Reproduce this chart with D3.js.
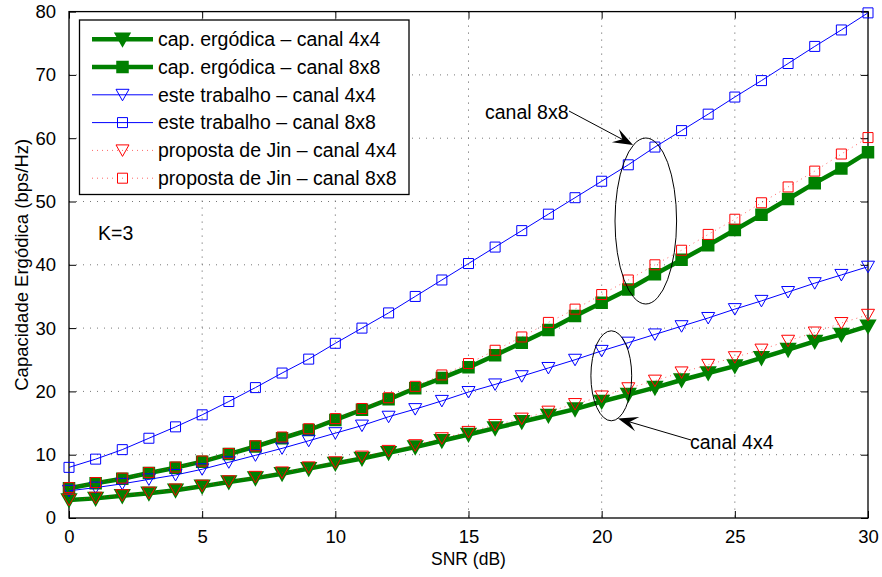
<!DOCTYPE html>
<html>
<head>
<meta charset="utf-8">
<script src="https://cdn.jsdelivr.net/npm/d3@7"></script>
<style>
  html, body { margin: 0; padding: 0; background: #fff; }
  svg { display: block; }
  text { font-family: "Liberation Sans", Arial, Helvetica, sans-serif; fill: #000; }
</style>
</head>
<body>
<svg id="chart" width="882" height="577"></svg>
<script>
// SNR sweep (dB)
const snr = d3.range(0, 31);
const xTicks = [0, 5, 10, 15, 20, 25, 30];
const yTicks = [0, 10, 20, 30, 40, 50, 60, 70, 80];

// Ergodic capacity (bps/Hz)
const ergodica4x4 = [2.85, 3.1, 3.5, 3.9, 4.4, 5.0, 5.7, 6.3, 7.0, 7.8, 8.6, 9.4, 10.3, 11.2, 12.2, 13.2, 14.2, 15.2, 16.2, 17.2, 18.4, 19.5, 20.6, 21.8, 22.9, 24.0, 25.3, 26.6, 27.9, 29.0, 30.3];
const ergodica8x8 = [4.7, 5.5, 6.2, 7.1, 7.95, 8.9, 10.1, 11.3, 12.6, 13.9, 15.5, 17.1, 18.75, 20.5, 22.1, 23.8, 25.7, 27.7, 29.7, 31.9, 34.0, 36.1, 38.5, 40.8, 43.1, 45.5, 47.9, 50.4, 52.9, 55.2, 57.8];
const trabalho4x4 = [4.3, 4.8, 5.4, 6.1, 6.8, 7.7, 8.8, 9.9, 11.0, 12.2, 13.4, 14.6, 16.0, 17.2, 18.5, 19.9, 21.1, 22.4, 23.7, 25.0, 26.4, 27.7, 29.0, 30.3, 31.6, 33.0, 34.3, 35.7, 37.1, 38.4, 39.7];
const trabalho8x8 = [8.0, 9.3, 10.8, 12.6, 14.4, 16.3, 18.4, 20.6, 22.9, 25.1, 27.6, 30.0, 32.4, 35.0, 37.6, 40.2, 42.8, 45.4, 48.0, 50.6, 53.2, 55.8, 58.6, 61.2, 63.8, 66.5, 69.1, 71.8, 74.5, 77.1, 79.8];
const jin4x4 = [2.9, 3.2, 3.6, 4.0, 4.5, 5.1, 5.8, 6.5, 7.2, 8.0, 8.8, 9.7, 10.6, 11.5, 12.6, 13.6, 14.7, 15.7, 16.8, 18.0, 19.2, 20.5, 21.7, 23.0, 24.2, 25.4, 26.6, 28.0, 29.3, 30.8, 32.1];
const jin8x8 = [4.8, 5.6, 6.3, 7.2, 8.05, 9.0, 10.2, 11.4, 12.8, 14.1, 15.7, 17.3, 19.0, 20.8, 22.6, 24.4, 26.5, 28.6, 30.9, 33.0, 35.3, 37.6, 40.0, 42.3, 44.8, 47.2, 49.8, 52.3, 54.8, 57.5, 60.1];

const seriesNames = [
  "cap. ergódica \u2013 canal 4x4",
  "cap. ergódica \u2013 canal 8x8",
  "este trabalho \u2013 canal 4x4",
  "este trabalho \u2013 canal 8x8",
  "proposta de Jin \u2013 canal 4x4",
  "proposta de Jin \u2013 canal 8x8"
];

const GREEN = "#008000", BLUE = "#0000ff", RED = "#ff0000";
const styles = [
  { values: ergodica4x4, color: GREEN, width: 4.5, dash: null, marker: "tri", fill: GREEN, mstroke: 2.5 },
  { values: ergodica8x8, color: GREEN, width: 4.5, dash: null, marker: "sq", fill: GREEN, mstroke: 2.5 },
  { values: trabalho4x4, color: BLUE, width: 1, dash: null, marker: "tri", fill: "none", mstroke: 1 },
  { values: trabalho8x8, color: BLUE, width: 1, dash: null, marker: "sq", fill: "none", mstroke: 1 },
  { values: jin4x4, color: RED, width: 1, dash: "1,4", marker: "tri", fill: "none", mstroke: 1 },
  { values: jin8x8, color: RED, width: 1, dash: "1,4", marker: "sq", fill: "none", mstroke: 1 }
];

const svg = d3.select("#chart");
svg.append("rect").attr("width", 882).attr("height", 577).attr("fill", "#fff");

const plot = { left: 69, right: 868, top: 11.6, bottom: 518 };
const x = d3.scaleLinear().domain([0, 30]).range([plot.left, plot.right]);
const y = d3.scaleLinear().domain([0, 80]).range([plot.bottom, plot.top]);

// grid
const grid = svg.append("g");
grid.selectAll("line.gx").data(xTicks.slice(1, -1)).join("line")
  .attr("x1", d => x(d)).attr("x2", d => x(d))
  .attr("y1", plot.top).attr("y2", plot.bottom)
  .attr("stroke", "#555").attr("stroke-width", 1).attr("stroke-dasharray", "1,6");
grid.selectAll("line.gy").data(yTicks.slice(1, -1)).join("line")
  .attr("y1", d => y(d)).attr("y2", d => y(d))
  .attr("x1", plot.left).attr("x2", plot.right)
  .attr("stroke", "#777").attr("stroke-width", 1).attr("stroke-dasharray", "1,6");

// axes with inward ticks on all four sides
const tickLen = 7;
const fs = 18.5;
const axB = svg.append("g").attr("transform", `translate(0,${plot.bottom})`)
  .call(d3.axisBottom(x).tickValues(xTicks).tickSize(-tickLen).tickPadding(12).tickFormat(d3.format("d")));
const axT = svg.append("g").attr("transform", `translate(0,${plot.top})`)
  .call(d3.axisTop(x).tickValues(xTicks).tickSize(-tickLen).tickFormat(""));
const axL = svg.append("g").attr("transform", `translate(${plot.left},0)`)
  .call(d3.axisLeft(y).tickValues(yTicks).tickSize(-tickLen).tickPadding(13).tickFormat(d3.format("d")));
const axR = svg.append("g").attr("transform", `translate(${plot.right},0)`)
  .call(d3.axisRight(y).tickValues(yTicks).tickSize(-tickLen).tickFormat(""));
[axB, axT, axL, axR].forEach(g => {
  g.select(".domain").remove();
  g.selectAll(".tick line").attr("stroke", "#000").attr("stroke-width", 1);
  g.selectAll("text").attr("font-size", fs).attr("font-family", "Liberation Sans, Arial, sans-serif").attr("fill", "#000");
});
svg.append("rect")
  .attr("x", plot.left).attr("y", plot.top)
  .attr("width", plot.right - plot.left).attr("height", plot.bottom - plot.top)
  .attr("fill", "none").attr("stroke", "#000").attr("stroke-width", 1.3);

// axis titles
svg.append("text").attr("x", (plot.left + plot.right) / 2).attr("y", 565)
  .attr("text-anchor", "middle").attr("font-size", 17.5).text("SNR (dB)");
svg.append("text").attr("transform", `translate(28,${(plot.top + plot.bottom) / 2}) rotate(-90)`)
  .attr("text-anchor", "middle").attr("font-size", fs).text("Capacidade Ergódica (bps/Hz)");

// marker shapes
const triPath = "M-6.5,-5.5L6.5,-5.5L0,6Z";
const sqPath = "M-5,-5L5,-5L5,5L-5,5Z";

const line = d3.line().x((d, i) => x(snr[i])).y(d => y(d));
const curves = svg.append("g");
styles.forEach(s => {
  const g = curves.append("g");
  g.append("path").datum(s.values).attr("d", line)
    .attr("fill", "none").attr("stroke", s.color).attr("stroke-width", s.width)
    .attr("stroke-linejoin", "round")
    .attr("stroke-dasharray", s.dash).attr("opacity", s.dash ? 0.6 : 1);
  g.selectAll("path.m").data(s.values).join("path").attr("class", "m")
    .attr("d", s.marker === "tri" ? triPath : sqPath)
    .attr("transform", (d, i) => `translate(${x(snr[i])},${y(d)})`)
    .attr("fill", s.fill).attr("stroke", s.color).attr("stroke-width", s.mstroke);
});

// legend
const leg = svg.append("g");
leg.append("rect").attr("x", 79.5).attr("y", 20).attr("width", 329.5).attr("height", 174.5)
  .attr("fill", "#fff").attr("stroke", "#000").attr("stroke-width", 1.3);
styles.forEach((s, i) => {
  const cy = 39.2 + i * 27.8;
  leg.append("line").attr("x1", 92).attr("x2", 153).attr("y1", cy).attr("y2", cy)
    .attr("stroke", s.color).attr("stroke-width", s.width)
    .attr("stroke-dasharray", s.dash).attr("opacity", s.dash ? 0.6 : 1);
  leg.append("path").attr("d", s.marker === "tri" ? triPath : sqPath)
    .attr("transform", `translate(122.5,${cy})`)
    .attr("fill", s.fill).attr("stroke", s.color).attr("stroke-width", s.mstroke);
  leg.append("text").attr("x", 158).attr("y", cy + 6.8).attr("font-size", 19.5).text(seriesNames[i]);
});

// annotations
svg.append("text").attr("x", 98).attr("y", 240).attr("font-size", 19.5).text("K=3");

svg.append("ellipse").attr("cx", 645.8).attr("cy", 221).attr("rx", 30.8).attr("ry", 83)
  .attr("fill", "none").attr("stroke", "#000").attr("stroke-width", 1);
svg.append("ellipse").attr("cx", 611.3).attr("cy", 375.8).attr("rx", 20.4).attr("ry", 45)
  .attr("fill", "none").attr("stroke", "#000").attr("stroke-width", 1);

function arrow(x1, y1, x2, y2) {
  const ang = Math.atan2(y2 - y1, x2 - x1);
  const L = 20, W = 7.5, N = 12;
  svg.append("line").attr("x1", x1).attr("y1", y1)
    .attr("x2", x2 - Math.cos(ang) * N).attr("y2", y2 - Math.sin(ang) * N)
    .attr("stroke", "#000").attr("stroke-width", 1);
  const pts = [[0, 0], [-L, -W], [-N, 0], [-L, W]].map(([u, v]) => [
    x2 + u * Math.cos(ang) - v * Math.sin(ang),
    y2 + u * Math.sin(ang) + v * Math.cos(ang)
  ]);
  svg.append("path").attr("d", "M" + pts.map(p => p.join(",")).join("L") + "Z").attr("fill", "#000");
}
svg.append("text").attr("x", 485).attr("y", 119).attr("font-size", 19.5).text("canal 8x8");
arrow(569, 111, 633, 145);
svg.append("text").attr("x", 690).attr("y", 449).attr("font-size", 19.5).text("canal 4x4");
arrow(691, 440, 618, 418.5);
</script>
</body>
</html>
